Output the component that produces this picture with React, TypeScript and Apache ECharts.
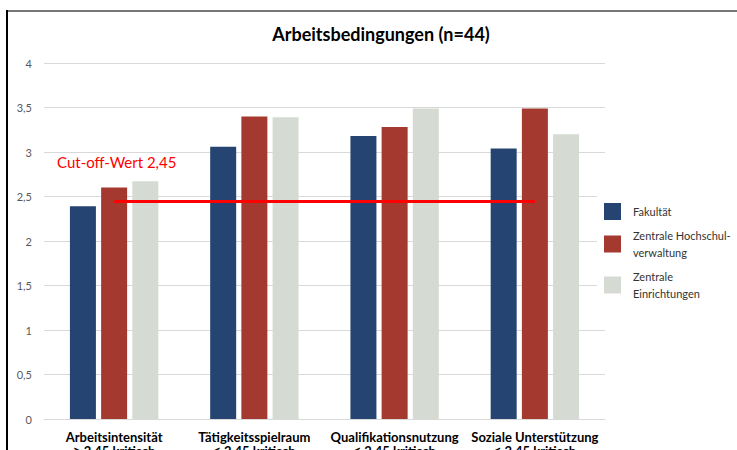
import React, { useEffect, useRef } from "react";
import * as echarts from "echarts";

const categories = [
  "Arbeitsintensität\n≥ 2,45 kritisch",
  "Tätigkeitsspielraum\n≤ 2,45 kritisch",
  "Qualifikationsnutzung\n≤ 2,45 kritisch",
  "Soziale Unterstützung\n≤ 2,45 kritisch",
];
const seriesNames = ["Fakultät", "Zentrale Hochschul-\nverwaltung", "Zentrale\nEinrichtungen"];
const fakultaet = [2.39, 3.06, 3.18, 3.04];
const hochschulverwaltung = [2.6, 3.4, 3.28, 3.49];
const einrichtungen = [2.67, 3.39, 3.49, 3.2];
const cutOff = 2.45;
const colors = ["#264472", "#A3392F", "#D5DBD2"];

export default function App() {
  const ref = useRef<HTMLDivElement>(null);
  useEffect(() => {
    if (!ref.current) return;
    const chart = echarts.init(ref.current, null, { renderer: "svg" });
    const font = "Lato, 'Open Sans', sans-serif";
    const values = [fakultaet, hochschulverwaltung, einrichtungen];
    chart.setOption({
      animation: false,
      textStyle: { fontFamily: font },
      title: {
        text: "Arbeitsbedingungen (n=44)",
        left: 376,
        top: 20,
        textAlign: "center",
        textStyle: { fontFamily: font, fontSize: 18, fontWeight: "bold", color: "#000" },
      },
      grid: { left: 44, right: 132, top: 63, bottom: 31, containLabel: false, outerBoundsMode: "none" },
      legend: {
        orient: "vertical",
        left: 597,
        top: 195,
        padding: [8, 10, 10, 7],
        backgroundColor: "#ffffff",
        itemWidth: 17,
        itemHeight: 17,
        itemGap: 7,
        icon: "rect",
        textStyle: { fontFamily: font, fontSize: 11, color: "#333", lineHeight: 17, padding: [0, 0, 0, 7] },
        data: seriesNames,
      },
      xAxis: {
        type: "category",
        data: categories,
        axisLine: { show: true, lineStyle: { color: "#d9d9d9" } },
        axisTick: { show: false },
        axisLabel: {
          interval: 0,
          margin: 11,
          fontFamily: font,
          fontSize: 13,
          fontWeight: "bold",
          color: "#000",
          lineHeight: 14,
        },
      },
      yAxis: {
        type: "value",
        min: 0,
        max: 4,
        interval: 0.5,
        axisLine: { show: false },
        axisTick: { show: false },
        splitLine: { lineStyle: { color: "#d9d9d9", width: 1 } },
        axisLabel: {
          margin: 12,
          fontFamily: font,
          fontSize: 11,
          color: "#595959",
          formatter: (v: number) => String(v).replace(".", ","),
        },
      },
      series: values.map((data, i) => ({
        name: seriesNames[i],
        type: "bar",
        data,
        barWidth: 26,
        barGap: "20%",
        itemStyle: { color: colors[i] },
        ...(i === 1
          ? {
              markLine: {
                symbol: "none",
                silent: true,
                z: 10,
                label: { show: false },
                lineStyle: { color: "#FF0000", width: 3, type: "solid" },
                data: [
                  [
                    { coord: [0, cutOff] },
                    { coord: [3, cutOff] },
                  ],
                ],
              },
            }
          : {}),
      })),
      graphic: [
        {
          type: "text",
          left: 57,
          top: 154,
          style: { text: "Cut-off-Wert 2,45", fill: "#FF0000", fontSize: 15, fontFamily: font },
        },
        {
          type: "line",
          shape: { x1: 6, y1: 11, x2: 737, y2: 11 },
          style: { stroke: "#777777", lineWidth: 2 },
        },
        {
          type: "line",
          shape: { x1: 7, y1: 10, x2: 7, y2: 450 },
          style: { stroke: "#000000", lineWidth: 2 },
        },
      ],
    });
    return () => chart.dispose();
  }, []);
  return (
    <div
      ref={ref}
      style={{ position: "fixed", left: 0, top: 0, width: 737, height: 450, background: "#fff" }}
    />
  );
}
